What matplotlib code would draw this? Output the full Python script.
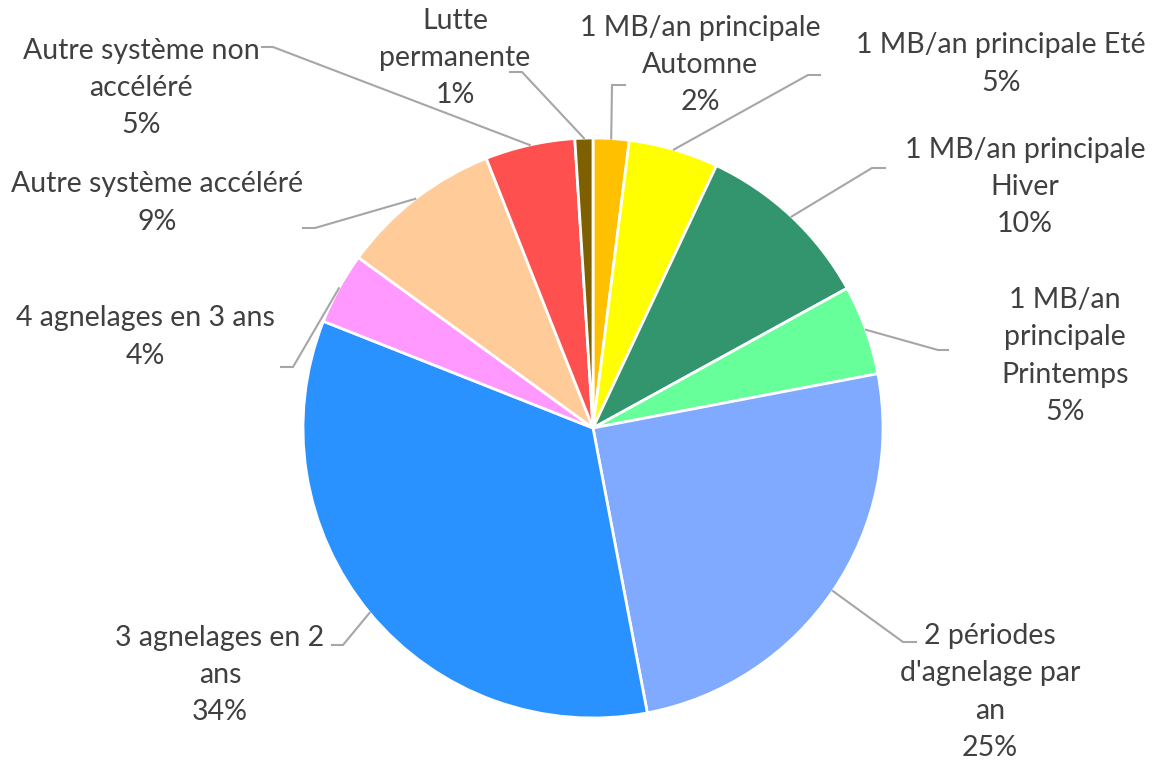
import matplotlib.pyplot as plt
import numpy as np

# Répartition des systèmes de reproduction (parts en %)
categories = [
    "1 MB/an principale\nAutomne",
    "1 MB/an principale Eté",
    "1 MB/an principale\nHiver",
    "1 MB/an\nprincipale\nPrintemps",
    "2 périodes\nd'agnelage par\nan",
    "3 agnelages en 2\nans",
    "4 agnelages en 3 ans",
    "Autre système accéléré",
    "Autre système non\naccéléré",
    "Lutte\npermanente",
]
parts = [2, 5, 10, 5, 25, 34, 4, 9, 5, 1]
couleurs = ["#FFC000", "#FFFF00", "#33956E", "#66FF99", "#7FAAFF",
            "#2A92FF", "#FF99FF", "#FFCC99", "#FF5050", "#7F6000"]

W, H = 1163, 765
fig = plt.figure(figsize=(W / 100, H / 100), dpi=100)
ax = fig.add_axes([0, 0, 1, 1])
ax.set_aspect("equal")

cx, cy, r = 593, H - 428, 290
wedges, _ = ax.pie(parts, colors=couleurs, startangle=90, counterclock=False,
                   center=(cx, cy), radius=r, frame=True,
                   wedgeprops=dict(edgecolor="white", linewidth=2))
ax.set_xlim(0, W)
ax.set_ylim(0, H)
ax.axis("off")

# position des étiquettes (centre du bloc) et coude de la ligne de rappel, en pixels
pos_txt = [(700, 65), (1001, 64), (1025, 187), (1065, 356), (990, 692),
           (220, 675), (145, 337), (157, 203), (141, 88), (455, 58)]
coudes = [((625, 85), (612, 85)), ((820, 75), (808, 75)), ((885, 168), (872, 168)),
          ((948, 350), (938, 350)), ((916, 642), (903, 642)), ((332, 645), (343, 645)),
          ((281, 367), (293, 367)), ((303, 228), (315, 228)), ((262, 47), (273, 47)),
          ((510, 72), (522, 72))]

gris_txt = "#404040"
gris_ligne = "#A6A6A6"
for w, cat, p, (tx, ty), (bout, coude) in zip(wedges, categories, parts, pos_txt, coudes):
    ang = np.deg2rad((w.theta1 + w.theta2) / 2)
    x0, y0 = cx + r * np.cos(ang), cy + r * np.sin(ang)
    ax.plot([x0, coude[0], bout[0]], [y0, H - coude[1], H - bout[1]],
            color=gris_ligne, linewidth=1.5, solid_joinstyle="miter", zorder=1)
    ax.text(tx, H - ty, f"{cat}\n{p}%", ha="center", va="center", multialignment="center",
            fontsize=20.5, family="Lato", color=gris_txt, linespacing=1.53)

fig.savefig("out.png", dpi=100, facecolor="white")
